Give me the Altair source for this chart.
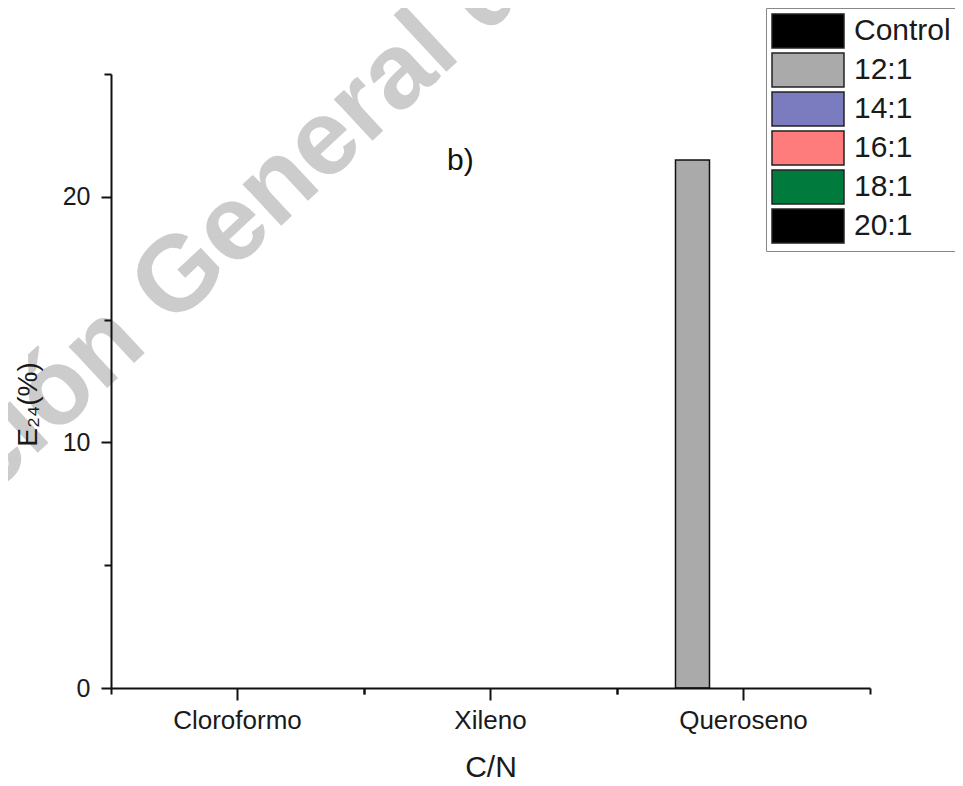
import altair as alt
import pandas as pd

# ---- data ----
solvents = ["Cloroformo", "Xileno", "Queroseno"]
series = ["Control", "12:1", "14:1", "16:1", "18:1", "20:1"]
series_colors = ["#000000", "#AAAAAA", "#7B7BC0", "#FF7C7C", "#007A3D", "#000000"]
cloroformo_vals = [0, 0, 0, 0, 0, 0]
xileno_vals = [0, 0, 0, 0, 0, 0]
queroseno_vals = [0, 21.5, 0, 0, 0, 0]
y_ticks = [0, 5, 10, 15, 20, 25]
watermark_text = "Dirección General de Bibliotecas"
panel_label = "b)"

rows = []
for solv, vals in zip(solvents, [cloroformo_vals, xileno_vals, queroseno_vals]):
    for ser, v in zip(series, vals):
        rows.append({"solvente": solv, "serie": ser, "E24": v})
df = pd.DataFrame(rows)

FONT = "Liberation Sans"
INK = "#1a1a1a"

x_scale = alt.Scale(domain=solvents, paddingInner=0, paddingOuter=0)
y_scale = alt.Scale(domain=[0, 25], nice=False, zero=True)

watermark = alt.Chart(pd.DataFrame({"t": [watermark_text]})).mark_text(
    font=FONT, fontSize=107, fontWeight="bold", color="#cccccc", angle=317,
    align="left", baseline="alphabetic"
).encode(text="t:N", x=alt.value(-318), y=alt.value(607))

bars = alt.Chart(df).mark_bar(stroke="#111111").encode(
    x=alt.X(
        "solvente:N", scale=x_scale, sort=solvents,
        axis=alt.Axis(
            orient="bottom", title="C/N", labelAngle=0, labelFont=FONT, labelFontSize=26,
            labelColor=INK, labelPadding=7, tickSize=12, tickWidth=2, tickColor="#111111",
            domainColor="#111111", domainWidth=2, titleFont=FONT, titleFontSize=30,
            titleFontWeight="normal", titleColor=INK, titleY=88, titleBaseline="alphabetic",
            grid=False, zindex=1,
        ),
    ),
    xOffset=alt.XOffset(
        "serie:N", sort=series,
        scale=alt.Scale(domain=series, paddingInner=0, paddingOuter=0.72),
    ),
    y=alt.Y(
        "E24:Q", scale=y_scale,
        axis=alt.Axis(
            values=y_ticks,
            labelExpr="datum.value % 10 === 0 ? datum.label : ''",
            tickSize={"condition": {"test": "datum.value % 10 === 0", "value": 10}, "value": 7},
            tickWidth=2, tickColor="#111111", domainColor="#111111", domainWidth=2,
            labelFont=FONT, labelFontSize=25, labelColor=INK, labelPadding=11,
            title="E₂₄(%)", titleFont=FONT, titleFontSize=28, titleFontWeight="normal",
            titleColor=INK, titleAngle=270, titleX=-83, titleY=330,
            titleAlign="center", titleBaseline="middle", grid=False, zindex=1,
        ),
    ),
    strokeWidth=alt.condition(alt.datum.E24 > 0, alt.value(1.5), alt.value(0)),
    color=alt.Color(
        "serie:N", sort=series,
        scale=alt.Scale(domain=series, range=series_colors),
        legend=alt.Legend(
            orient="none", legendX=655, legendY=-66, title=None,
            symbolType="M-1,-1H3.235V1H-1Z", symbolSize=1156,
            symbolStrokeColor="#222222", symbolStrokeWidth=1.5, symbolOpacity=1,
            labelFont=FONT, labelFontSize=30, labelColor=INK, labelOffset=47, labelLimit=300,
            rowPadding=-1, padding=5, strokeColor="#888888", fillColor="white",
        ),
    ),
)

minor_df = pd.DataFrame({"solvente": solvents})


def minor_axis(band_pos):
    return alt.Chart(minor_df).mark_rule(opacity=0).encode(
        x=alt.X(
            "solvente:N", scale=x_scale, sort=solvents,
            axis=alt.Axis(
                orient="bottom", bandPosition=band_pos, labels=False, domain=False,
                title=None, tickSize=6, tickWidth=2, tickColor="#111111", grid=False, zindex=1,
            ),
        )
    )


label_b = alt.Chart(pd.DataFrame({"t": [panel_label]})).mark_text(
    font=FONT, fontSize=30, color="#111111", align="left", baseline="alphabetic"
).encode(text="t:N", x=alt.value(336), y=alt.value(96))

chart = alt.layer(
    watermark, bars, minor_axis(0), minor_axis(1), label_b
).resolve_axis(x="independent").properties(
    width=759,
    height=614,
    autosize=alt.AutoSizeParams(type="none"),
    padding={"left": 103, "top": 66, "right": 85, "bottom": 90},
).configure_view(stroke=None)

chart.save("out.html", embed_options={"renderer": "svg", "actions": False})
